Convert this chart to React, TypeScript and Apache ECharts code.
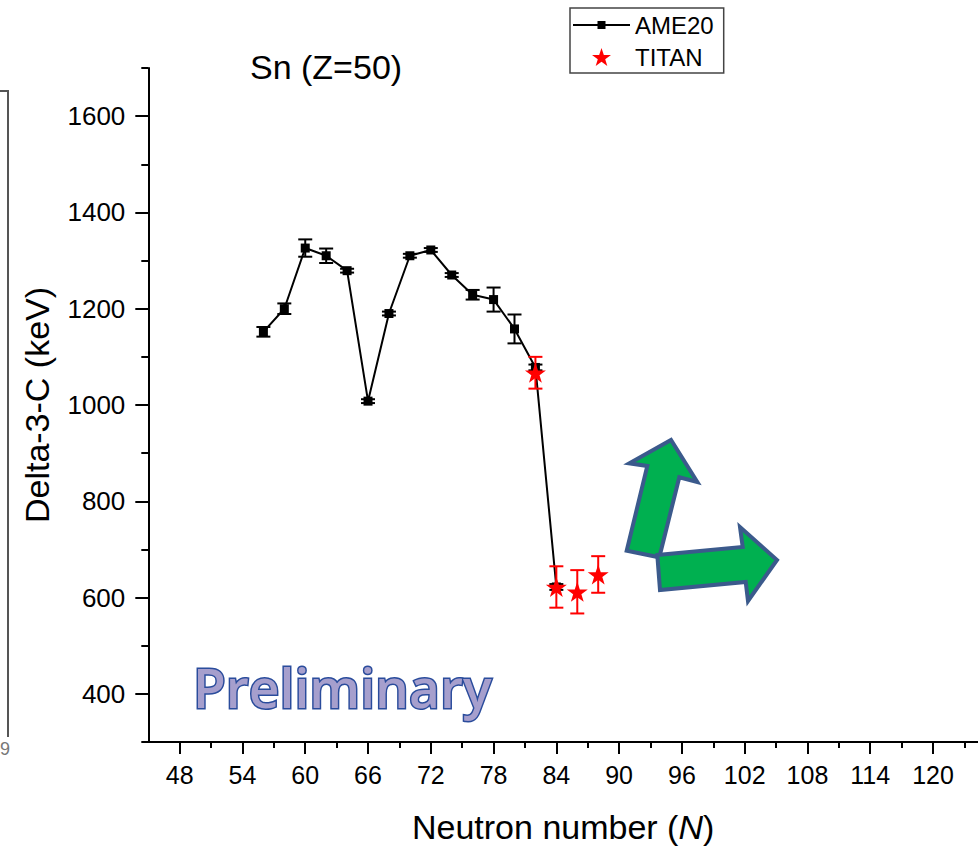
import React, { useEffect, useRef } from "react";
import * as echarts from "echarts";

// ---- data ----
const AME_N = [56, 58, 60, 62, 64, 66, 68, 70, 72, 74, 76, 78, 80, 82, 84];
const AME_D3 = [1152, 1200, 1326, 1310, 1279, 1008, 1190, 1310, 1322, 1270, 1229, 1219, 1158, 1078, 622];
const AME_ERR = [10, 11, 18, 15, 4, 4, 4, 4, 4, 4, 10, 25, 30, 6, 6];

const TITAN_N = [82, 84, 86, 88];
const TITAN_D3 = [1067, 622, 612, 648];
const TITAN_ERR = [33, 43, 45, 38];

const X_TICKS = [48, 54, 60, 66, 72, 78, 84, 90, 96, 102, 108, 114, 120];
const X_MINOR = [51, 57, 63, 69, 75, 81, 87, 93, 99, 105, 111, 117, 123];
const Y_TICKS = [400, 600, 800, 1000, 1200, 1400, 1600];
const Y_MINOR = [300, 500, 700, 900, 1100, 1300, 1500, 1700];

const X_MIN = 45;
const X_MAX = 124.3;
const Y_MIN = 300;
const Y_MAX = 1700;

const FONT = "'Liberation Sans', Arial, sans-serif";
const STAR =
  "path://M50,0L61.8,35.1L98.1,35.1L68.8,56.7L79.4,91.2L50,70L20.6,91.2L31.2,56.7L1.9,35.1L38.2,35.1Z";
const AME_ICON = "path://M0,3L57,3L57,5L0,5Z M24.5,0L32.5,0L32.5,8L24.5,8Z";

function errRenderer(color: string) {
  return (params: any, api: any) => {
    const x = api.value(0);
    const y = api.value(1);
    const e = api.value(2);
    const lo = api.coord([x, y - e]);
    const hi = api.coord([x, y + e]);
    const w = 7;
    const style = { stroke: color, lineWidth: 2 };
    return {
      type: "group",
      children: [
        { type: "line", shape: { x1: lo[0], y1: lo[1], x2: hi[0], y2: hi[1] }, style },
        { type: "line", shape: { x1: lo[0] - w, y1: lo[1], x2: lo[0] + w, y2: lo[1] }, style },
        { type: "line", shape: { x1: hi[0] - w, y1: hi[1], x2: hi[0] + w, y2: hi[1] }, style },
      ],
    };
  };
}

export default function App() {
  const ref = useRef<HTMLDivElement>(null);

  useEffect(() => {
    if (!ref.current) return;
    const chart = echarts.init(ref.current, undefined, { renderer: "svg" });

    const ameData = AME_N.map((n, i) => [n, AME_D3[i]]);
    const ameErr = AME_N.map((n, i) => [n, AME_D3[i], AME_ERR[i]]);
    const titanData = TITAN_N.map((n, i) => [n, TITAN_D3[i]]);
    const titanErr = TITAN_N.map((n, i) => [n, TITAN_D3[i], TITAN_ERR[i]]);

    const axisColor = "#000";

    chart.setOption({
      animation: false,
      backgroundColor: "#fff",
      textStyle: { fontFamily: FONT },
      title: {
        text: "Sn (Z=50)",
        left: 245,
        top: 45,
        textStyle: { fontSize: 34, fontWeight: "normal", color: "#000", fontFamily: FONT },
      },
      legend: {
        orient: "vertical",
        left: 570,
        top: 8,
        padding: [5, 10, 4, 3],
        itemGap: 8,
        itemWidth: 57,
        itemHeight: 18,
        borderColor: "#444",
        borderWidth: 1.5,
        backgroundColor: "#fff",
        textStyle: { fontSize: 24, color: "#000", fontFamily: FONT },
        data: [
          { name: "AME20", icon: AME_ICON, itemStyle: { color: "#000" } },
          { name: "TITAN", icon: STAR, itemStyle: { color: "#ff0000" } },
        ],
      },
      grid: { left: 148.3, right: 0, top: 68, bottom: 104.7, containLabel: false },
      xAxis: [
        {
          type: "value",
          min: X_MIN,
          max: X_MAX,
          position: "bottom",
          name: "Neutron number ({i|N})",
          nameLocation: "middle",
          nameGap: 68,
          nameTextStyle: {
            fontSize: 34,
            color: "#000",
            fontFamily: FONT,
            rich: { i: { fontSize: 34, fontStyle: "italic", color: "#000", fontFamily: FONT } },
          },
          axisLine: { show: true, onZero: false, lineStyle: { color: axisColor, width: 2 } },
          axisTick: { show: true, customValues: X_TICKS, length: 12, lineStyle: { color: axisColor, width: 2 } },
          axisLabel: {
            show: true,
            customValues: X_TICKS,
            fontSize: 25,
            color: "#000",
            margin: 20,
            fontFamily: FONT,
            formatter: (v: number) => String(v),
          },
          splitLine: { show: false },
        },
        {
          type: "value",
          min: X_MIN,
          max: X_MAX,
          position: "bottom",
          axisLine: { show: false },
          axisTick: { show: true, customValues: X_MINOR, length: 6, lineStyle: { color: axisColor, width: 2 } },
          axisLabel: { show: false },
          splitLine: { show: false },
        },
      ],
      yAxis: [
        {
          type: "value",
          min: Y_MIN,
          max: Y_MAX,
          position: "left",
          name: "Delta-3-C (keV)",
          nameLocation: "middle",
          nameGap: 94,
          nameTextStyle: { fontSize: 34, color: "#000", fontFamily: FONT },
          axisLine: { show: true, onZero: false, lineStyle: { color: axisColor, width: 2 } },
          axisTick: { show: true, customValues: Y_TICKS, length: 13, lineStyle: { color: axisColor, width: 2 } },
          axisLabel: {
            show: true,
            customValues: Y_TICKS,
            fontSize: 26,
            color: "#000",
            margin: 23,
            fontFamily: FONT,
            formatter: (v: number) => String(v),
          },
          splitLine: { show: false },
        },
        {
          type: "value",
          min: Y_MIN,
          max: Y_MAX,
          position: "left",
          axisLine: { show: false },
          axisTick: { show: true, customValues: Y_MINOR, length: 7, lineStyle: { color: axisColor, width: 2 } },
          axisLabel: { show: false },
          splitLine: { show: false },
        },
      ],
      series: [
        {
          name: "AME20",
          type: "line",
          xAxisIndex: 0,
          yAxisIndex: 0,
          data: ameData,
          symbol: "rect",
          symbolSize: 9,
          lineStyle: { color: "#000", width: 2 },
          itemStyle: { color: "#000" },
          z: 2,
        },
        {
          name: "AME20 err",
          type: "custom",
          xAxisIndex: 0,
          yAxisIndex: 0,
          data: ameErr,
          encode: { x: 0, y: 1 },
          renderItem: errRenderer("#000"),
          z: 3,
        },
        {
          name: "TITAN",
          type: "scatter",
          xAxisIndex: 0,
          yAxisIndex: 0,
          data: titanData,
          symbol: STAR,
          symbolSize: [21, 20],
          itemStyle: { color: "#ff0000", opacity: 1 },
          z: 5,
        },
        {
          name: "TITAN err",
          type: "custom",
          xAxisIndex: 0,
          yAxisIndex: 0,
          data: titanErr,
          encode: { x: 0, y: 1 },
          renderItem: errRenderer("#ff0000"),
          z: 5,
        },
      ],
      graphic: [
        {
          type: "polyline",
          shape: { points: [[0, 91], [8, 91], [8, 737]] },
          style: { stroke: "#555", lineWidth: 2, fill: null },
          silent: true,
        },
        {
          type: "text",
          x: 0,
          y: 749,
          style: { text: "9", fontSize: 18, fill: "#777", fontFamily: FONT, verticalAlign: "middle" },
          silent: true,
        },
        {
          type: "polygon",
          shape: {
            points: [
              [626.7, 550.7],
              [647.3, 466],
              [629.3, 463.3],
              [671, 440],
              [697.3, 482],
              [679.3, 477.3],
              [659.3, 557.3],
            ],
          },
          style: { fill: "#00b050", stroke: "#3b5a8c", lineWidth: 4, lineJoin: "miter" },
          silent: true,
          z: 10,
        },
        {
          type: "polygon",
          shape: {
            points: [
              [657.3, 555],
              [742.7, 547],
              [740, 527],
              [777, 560],
              [748, 601],
              [745.7, 582],
              [660, 590],
            ],
          },
          style: { fill: "#00b050", stroke: "#3b5a8c", lineWidth: 4, lineJoin: "miter" },
          silent: true,
          z: 10,
        },
        {
          type: "text",
          x: 193,
          y: 687,
          scaleX: 0.97,
          style: {
            text: "Preliminary",
            fontSize: 55,
            fontWeight: 600,
            fontFamily: "'Open Sans', Lato, sans-serif",
            fill: "#a69fcd",
            stroke: "#2a4c9c",
            lineWidth: 3,
            align: "left",
            verticalAlign: "middle",
            shadowColor: "rgba(0,0,0,0.35)",
            shadowBlur: 3,
            shadowOffsetX: 2,
            shadowOffsetY: 2,
          },
          silent: true,
          z: 10,
        },
      ],
    });

    return () => {
      chart.dispose();
    };
  }, []);

  return (
    <div
      ref={ref}
      style={{ position: "absolute", left: 0, top: 0, width: 978, height: 849 }}
    />
  );
}
